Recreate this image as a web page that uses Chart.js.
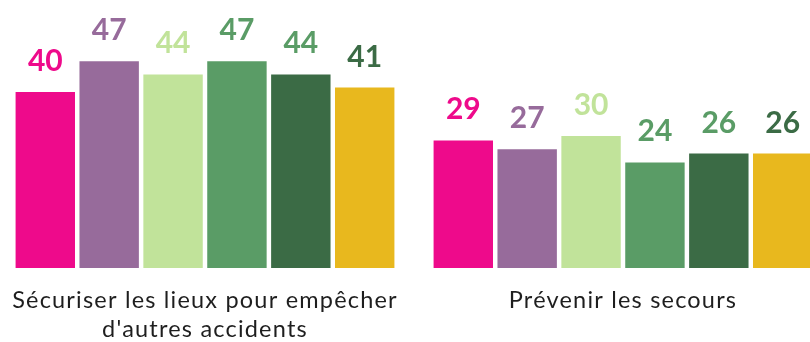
<!DOCTYPE html>
<html>
<head>
<meta charset="utf-8">
<script src="https://cdn.jsdelivr.net/npm/chart.js@4"></script>
<style>
  html, body { margin: 0; padding: 0; background: #fff; overflow: hidden; }
  #wrap { position: relative; left: -4px; width: 836px; height: 342px; }
</style>
</head>
<body>
<div id="wrap"><canvas id="chart"></canvas></div>
<script>
// categories (multi-line labels)
const categories = [
  ['Sécuriser les lieux pour empêcher', "d'autres accidents"],
  ['Prévenir les secours']
];

// one series per colour
const seriesNames = ['Série 1', 'Série 2', 'Série 3', 'Série 4', 'Série 5', 'Série 6'];
const series1 = [40, 29];
const series2 = [47, 27];
const series3 = [44, 30];
const series4 = [47, 24];
const series5 = [44, 26];
const series6 = [41, 26];

const barColors = ['#ee0a8b', '#976b9b', '#c1e39a', '#5a9c66', '#3b6b45', '#e8b81e'];
const labelColors = ['#ee0a8b', '#976b9b', '#c1e39a', '#5a9c66', '#5a9c66', '#3b6b45'];

const allSeries = [series1, series2, series3, series4, series5, series6];

// value labels above each bar
const valueLabels = {
  id: 'valueLabels',
  afterDatasetsDraw(chart) {
    const c = chart.ctx;
    c.save();
    c.font = 'bold 30px Lato';
    c.textAlign = 'center';
    c.textBaseline = 'alphabetic';
    chart.data.datasets.forEach((ds, i) => {
      chart.getDatasetMeta(i).data.forEach((bar, j) => {
        c.fillStyle = labelColors[i];
        c.fillText(ds.data[j], bar.x, bar.y - 21);
      });
    });
    c.restore();
  }
};

// category names under the groups
const categoryLabels = {
  id: 'categoryLabels',
  afterDraw(chart) {
    const c = chart.ctx;
    const x = chart.scales.x;
    c.save();
    c.font = '23.5px Lato';
    c.letterSpacing = '1.2px';
    c.fillStyle = '#1e1e1e';
    c.textAlign = 'center';
    c.textBaseline = 'alphabetic';
    categories.forEach((lines, i) => {
      lines.forEach((line, k) => {
        c.fillText(line, x.getPixelForValue(i), 308 + k * 29);
      });
    });
    c.restore();
  }
};

new Chart(document.getElementById('chart'), {
  type: 'bar',
  data: {
    labels: categories,
    datasets: allSeries.map((d, i) => ({
      label: seriesNames[i],
      data: d,
      backgroundColor: barColors[i],
      borderWidth: 0,
      barPercentage: 0.93,
      categoryPercentage: 0.917
    }))
  },
  options: {
    responsive: true,
    maintainAspectRatio: false,
    animation: false,
    layout: { padding: { top: 4, bottom: 74, left: 0, right: 0 } },
    plugins: { legend: { display: false }, tooltip: { enabled: false } },
    scales: {
      x: { display: false },
      y: { display: false, min: 0, max: 60 }
    }
  },
  plugins: [valueLabels, categoryLabels]
});
</script>
</body>
</html>
